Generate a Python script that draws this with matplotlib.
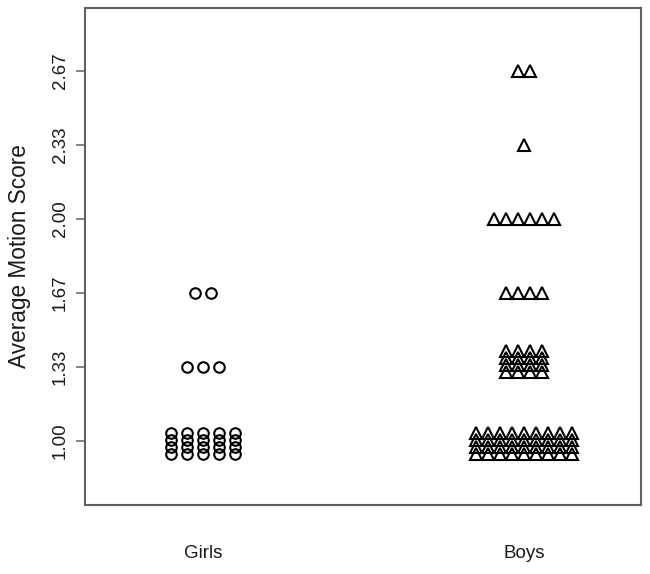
import matplotlib
matplotlib.use("Agg")
import matplotlib.pyplot as plt
import numpy as np

plt.rcParams['font.family'] = ['Liberation Sans', 'DejaVu Sans']

# ---- data ----
groups = ["Girls", "Boys"]
girls_values = [1.0, 4/3, 5/3]
girls_counts = [20, 3, 2]
boys_values = [1.0, 4/3, 5/3, 2.0, 7/3, 8/3]
boys_counts = [36, 16, 4, 6, 1, 2]
ytick_values = [1.0, 4/3, 5/3, 2.0, 7/3, 8/3]
ytick_labels = ["1.00", "1.33", "1.67", "2.00", "2.33", "2.67"]

# ---- layout ----
fig = plt.figure(figsize=(6.5, 5.74), dpi=100)
ax = fig.add_axes([85/650, (574-505)/574, (641-85)/650, (505-8)/574])
ax.set_xlim(0.632, 2.365)
ax.set_ylim(0.712, 2.95)

row_step = 0.0315
cluster_shift = {1.0: -0.01, 4/3: 0.025}

def stack(xc, values, counts, col_step):
    xs, ys = [], []
    for v, n in zip(values, counts):
        nrows = 4 if n > 6 else 1
        ncols = int(np.ceil(n / nrows))
        yc = v + cluster_shift.get(v, 0.0) if nrows > 1 else v
        for r in range(nrows):
            for c in range(ncols):
                if r * ncols + c >= n:
                    break
                xs.append(xc + (c - (ncols - 1) / 2) * col_step)
                ys.append(yc + ((nrows - 1) / 2 - r) * row_step)
    return xs, ys

gx, gy = stack(1, girls_values, girls_counts, 0.0498)
bx, by = stack(2, boys_values, boys_counts, 0.0372)

ax.plot(gx, gy, linestyle='none', marker='o', markersize=7.6,
        markerfacecolor='none', markeredgecolor='black', markeredgewidth=1.5)
ax.plot(bx, by, linestyle='none', marker='^', markersize=8.2,
        markerfacecolor='none', markeredgecolor='black', markeredgewidth=1.5)

frame_color = '#606060'
for s in ax.spines.values():
    s.set_color(frame_color)
    s.set_linewidth(1.5)

ax.set_yticks(ytick_values)
ax.set_yticklabels(ytick_labels, rotation=90, va='center', fontsize=13.5,
                   color='#1a1a1a')
ax.tick_params(axis='y', length=6.5, width=1.1, color=frame_color, pad=5)
ax.set_xticks([1, 2])
ax.set_xticklabels(groups, fontsize=13.5, color='#1a1a1a')
ax.tick_params(axis='x', length=0, pad=29)

ax.set_ylabel("Average Motion Score", fontsize=16.3, color='#1a1a1a', labelpad=15)

fig.savefig("out.png", dpi=100)
